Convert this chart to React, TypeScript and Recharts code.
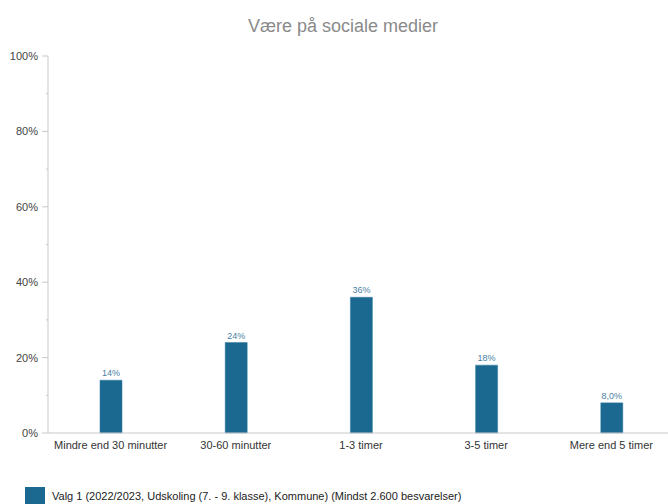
import { Bar, BarChart, LabelList, XAxis, YAxis } from "recharts";

const categories = [
  "Mindre end 30 minutter",
  "30-60 minutter",
  "1-3 timer",
  "3-5 timer",
  "Mere end 5 timer",
];
const values = [14, 24, 36, 18, 8];
const yTicks = [0, 10, 20, 30, 40, 50, 60, 70, 80, 90, 100];
const seriesName =
  "Valg 1 (2022/2023, Udskoling (7. - 9. klasse), Kommune) (Mindst 2.600 besvarelser)";

const barColor = "#1b6890";
const font = "'Liberation Sans', Arial, sans-serif";

function formatValue(value: number) {
  if (value < 10) return value.toFixed(1).replace(".", ",") + "%";
  return Math.round(value) + "%";
}

function YTick(props: any) {
  const { x, y, payload } = props;
  const axisX = x + 8;
  const major = payload.value % 20 === 0;
  return (
    <g>
      <line x1={axisX} x2={major ? axisX - 6 : axisX - 2} y1={y} y2={y} stroke="#c8c8c8" />
      {major && (
        <text x={axisX - 10} y={y} dy={4} textAnchor="end" fontSize={11} fill="#444" fontFamily={font}>
          {payload.value}%
        </text>
      )}
    </g>
  );
}

export default function App() {
  const data = categories.map((category, i) => ({ category, value: values[i] }));

  return (
    <div style={{ position: "absolute", left: 0, top: 0, width: 668, height: 504, overflow: "hidden", background: "#fff" }}>
      <div
        style={{
          position: "absolute",
          top: 16,
          left: 0,
          width: 686,
          textAlign: "center",
          fontFamily: font,
          fontSize: 18,
          color: "#8a8a8a",
        }}
      >
        Være på sociale medier
      </div>
      <BarChart
        width={676}
        height={504}
        data={data}
        margin={{ top: 56, right: 2, left: 0, bottom: 0 }}
        barSize={22}
      >
        <YAxis
          domain={[0, 100]}
          ticks={yTicks}
          interval={0}
          width={48}
          axisLine={{ stroke: "#c8c8c8" }}
          tickLine={false}
          tick={<YTick />}
        />
        <XAxis
          dataKey="category"
          height={71}
          interval={0}
          axisLine={{ stroke: "#c8c8c8" }}
          tickLine={false}
          tick={{ fontSize: 11, fill: "#333", fontFamily: font }}
          tickMargin={2}
        />
        <Bar dataKey="value" name={seriesName} fill={barColor} stroke="#2f7aa3" strokeWidth={0.5} isAnimationActive={false}>
          <LabelList
            dataKey="value"
            position="top"
            offset={4}
            formatter={(v: any) => formatValue(Number(v))}
            style={{ fontSize: 9, fill: "#4b7fa3", fontFamily: font }}
          />
        </Bar>
      </BarChart>
      <div
        style={{
          position: "absolute",
          left: 25,
          top: 487,
          display: "flex",
          alignItems: "center",
          fontFamily: font,
          fontSize: 11,
          color: "#222",
          whiteSpace: "nowrap",
        }}
      >
        <span style={{ display: "inline-block", width: 20, height: 17, background: barColor, marginRight: 7 }} />
        <span>{seriesName}</span>
      </div>
    </div>
  );
}
